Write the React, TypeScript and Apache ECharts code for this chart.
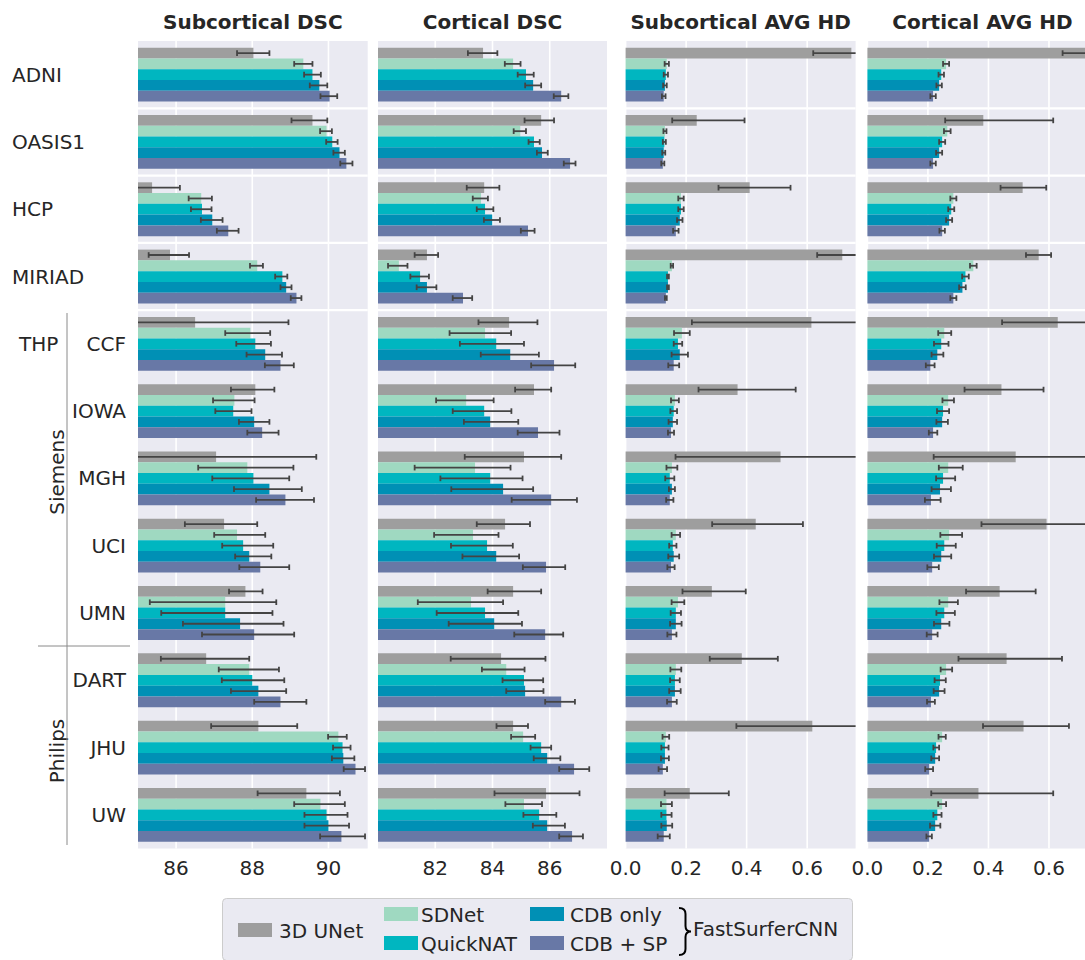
import React, { useEffect, useRef } from "react";
import * as echarts from "echarts";

// ---------- data ----------
const datasets = ["ADNI", "OASIS1", "HCP", "MIRIAD", "CCF", "IOWA", "MGH", "UCI", "UMN", "DART", "JHU", "UW"];
const methods = ["3D UNet", "SDNet", "QuickNAT", "CDB only", "CDB + SP"];
const methodColors = ["#9e9e9e", "#9fd9c1", "#00b6c0", "#0090b5", "#6878a6"];

// Subcortical DSC: rows = methods, cols = datasets (mean, CI low, CI high)
const subDscMeans = [
  [88.03, 89.58, 85.37, 85.84, 86.5, 88.08, 87.05, 87.26, 87.82, 86.79, 88.16, 89.42],
  [89.34, 89.95, 86.66, 88.13, 87.95, 87.53, 87.87, 87.6, 87.29, 87.92, 90.26, 89.79],
  [89.58, 90.1, 86.68, 88.79, 88.08, 87.5, 88.03, 87.76, 87.29, 88.0, 90.37, 89.95],
  [89.76, 90.29, 86.95, 88.89, 88.34, 88.05, 88.45, 87.92, 87.68, 88.16, 90.39, 90.0],
  [90.03, 90.47, 87.37, 89.16, 88.74, 88.26, 88.87, 88.21, 88.05, 88.74, 90.71, 90.34],
];
const subDscLow = [
  [87.6, 89.03, 84.6, 85.28, 84.0, 87.44, 84.4, 86.23, 87.39, 85.6, 86.92, 88.14],
  [89.1, 89.78, 86.33, 87.94, 87.29, 86.97, 86.58, 87.0, 85.31, 87.12, 89.99, 89.1],
  [89.36, 89.94, 86.39, 88.6, 87.58, 87.03, 86.95, 87.21, 85.61, 87.2, 90.12, 89.37],
  [89.51, 90.13, 86.65, 88.74, 87.85, 87.65, 87.52, 87.55, 86.18, 87.44, 90.09, 89.37],
  [89.79, 90.31, 87.07, 89.01, 88.33, 87.87, 88.1, 87.66, 86.68, 88.05, 90.4, 89.78],
];
const subDscHigh = [
  [88.45, 89.97, 86.1, 86.34, 88.95, 88.58, 89.68, 88.13, 88.27, 87.92, 89.18, 90.3],
  [89.58, 90.09, 86.94, 88.28, 88.47, 88.06, 89.08, 88.34, 88.63, 88.7, 90.48, 90.43],
  [89.8, 90.24, 86.93, 88.92, 88.49, 87.98, 88.97, 88.55, 88.53, 88.84, 90.58, 90.5],
  [89.97, 90.43, 87.22, 89.03, 88.78, 88.45, 89.3, 88.5, 88.82, 88.89, 90.68, 90.54],
  [90.23, 90.63, 87.64, 89.29, 89.09, 88.69, 89.62, 88.97, 89.1, 89.42, 90.96, 90.96],
];

// Cortical DSC
const corDscMeans = [
  [83.67, 85.7, 83.71, 81.71, 84.58, 85.45, 85.1, 84.44, 84.72, 84.3, 84.72, 85.87],
  [84.72, 84.97, 83.6, 80.73, 83.74, 83.08, 83.39, 83.32, 83.25, 84.48, 85.07, 85.1],
  [85.17, 85.45, 83.74, 81.47, 84.13, 83.71, 83.92, 83.81, 83.74, 85.1, 85.7, 85.63],
  [85.42, 85.73, 83.99, 81.71, 84.62, 83.92, 84.37, 84.13, 84.06, 85.14, 85.91, 85.91],
  [86.4, 86.71, 85.24, 82.97, 86.15, 85.59, 86.05, 85.87, 85.84, 86.4, 86.85, 86.78],
];
const corDscLow = [
  [83.14, 85.12, 83.1, 81.28, 83.51, 84.79, 83.03, 83.45, 83.83, 82.54, 84.14, 84.07],
  [84.43, 84.74, 83.31, 80.35, 82.5, 82.03, 81.28, 81.96, 81.39, 83.63, 84.65, 84.45],
  [84.88, 85.26, 83.45, 81.13, 82.86, 82.61, 82.18, 82.55, 82.05, 84.35, 85.33, 85.08],
  [85.14, 85.55, 83.7, 81.35, 83.59, 83.0, 82.56, 82.95, 82.47, 84.48, 85.44, 85.41],
  [86.14, 86.49, 84.99, 82.61, 85.35, 84.88, 84.67, 85.06, 84.76, 85.84, 86.33, 86.33],
];
const corDscHigh = [
  [84.17, 86.15, 84.24, 82.1, 85.57, 86.05, 86.4, 85.31, 85.7, 85.85, 85.24, 87.04],
  [84.98, 85.17, 83.84, 81.03, 84.65, 84.04, 84.63, 84.21, 84.37, 85.12, 85.49, 85.73],
  [85.44, 85.65, 84.03, 81.78, 85.1, 84.66, 85.05, 84.71, 84.9, 85.77, 86.05, 86.23],
  [85.7, 85.93, 84.26, 82.04, 85.62, 84.9, 85.42, 84.93, 85.03, 85.78, 86.37, 86.53],
  [86.65, 86.9, 85.47, 83.29, 86.89, 86.34, 86.95, 86.54, 86.47, 86.88, 87.38, 87.16],
];

// Subcortical AVG HD
const subHdMeans = [
  [0.746, 0.235, 0.41, 0.716, 0.614, 0.37, 0.512, 0.43, 0.285, 0.384, 0.617, 0.212],
  [0.136, 0.13, 0.183, 0.153, 0.186, 0.163, 0.153, 0.166, 0.173, 0.166, 0.133, 0.135],
  [0.133, 0.128, 0.183, 0.14, 0.173, 0.159, 0.146, 0.156, 0.166, 0.163, 0.13, 0.135],
  [0.13, 0.126, 0.179, 0.14, 0.179, 0.156, 0.153, 0.159, 0.166, 0.163, 0.13, 0.136],
  [0.126, 0.123, 0.166, 0.133, 0.159, 0.15, 0.146, 0.15, 0.153, 0.153, 0.123, 0.126],
];
const subHdLow = [
  [0.62, 0.154, 0.307, 0.633, 0.219, 0.241, 0.165, 0.286, 0.188, 0.278, 0.366, 0.129],
  [0.129, 0.125, 0.174, 0.149, 0.16, 0.15, 0.135, 0.152, 0.152, 0.148, 0.122, 0.117],
  [0.126, 0.123, 0.174, 0.137, 0.159, 0.148, 0.131, 0.144, 0.149, 0.147, 0.118, 0.118],
  [0.124, 0.121, 0.17, 0.137, 0.152, 0.142, 0.143, 0.141, 0.147, 0.144, 0.117, 0.118],
  [0.12, 0.118, 0.157, 0.13, 0.141, 0.14, 0.134, 0.138, 0.138, 0.137, 0.109, 0.106],
];
const subHdHigh = [
  [0.87, 0.393, 0.545, 0.8, 1.0, 0.562, 0.86, 0.586, 0.397, 0.503, 0.87, 0.341],
  [0.143, 0.135, 0.192, 0.157, 0.212, 0.176, 0.171, 0.18, 0.194, 0.184, 0.144, 0.153],
  [0.14, 0.133, 0.192, 0.143, 0.187, 0.17, 0.161, 0.168, 0.183, 0.179, 0.142, 0.152],
  [0.136, 0.131, 0.188, 0.143, 0.206, 0.17, 0.163, 0.177, 0.185, 0.182, 0.143, 0.154],
  [0.132, 0.128, 0.175, 0.136, 0.177, 0.16, 0.158, 0.162, 0.168, 0.169, 0.137, 0.146],
];

// Cortical AVG HD
const corHdMeans = [
  [0.74, 0.383, 0.513, 0.566, 0.629, 0.443, 0.49, 0.592, 0.437, 0.46, 0.516, 0.367],
  [0.26, 0.264, 0.284, 0.35, 0.254, 0.267, 0.267, 0.27, 0.267, 0.26, 0.247, 0.247],
  [0.244, 0.247, 0.277, 0.324, 0.244, 0.25, 0.25, 0.254, 0.254, 0.24, 0.227, 0.231],
  [0.237, 0.237, 0.27, 0.314, 0.231, 0.247, 0.24, 0.244, 0.244, 0.237, 0.224, 0.224],
  [0.217, 0.217, 0.247, 0.284, 0.208, 0.217, 0.21, 0.214, 0.214, 0.21, 0.204, 0.204],
];
const corHdLow = [
  [0.645, 0.257, 0.44, 0.524, 0.445, 0.321, 0.219, 0.377, 0.326, 0.301, 0.382, 0.211],
  [0.25, 0.253, 0.274, 0.339, 0.234, 0.248, 0.236, 0.241, 0.238, 0.242, 0.235, 0.234],
  [0.235, 0.237, 0.267, 0.313, 0.22, 0.23, 0.227, 0.229, 0.228, 0.222, 0.218, 0.218],
  [0.228, 0.227, 0.26, 0.303, 0.212, 0.228, 0.212, 0.22, 0.22, 0.219, 0.211, 0.207],
  [0.208, 0.208, 0.238, 0.274, 0.193, 0.203, 0.19, 0.198, 0.196, 0.197, 0.191, 0.195],
];
const corHdHigh = [
  [0.835, 0.614, 0.591, 0.607, 0.82, 0.582, 0.77, 0.8, 0.556, 0.643, 0.666, 0.614],
  [0.27, 0.275, 0.294, 0.361, 0.277, 0.286, 0.315, 0.313, 0.299, 0.28, 0.259, 0.26],
  [0.253, 0.257, 0.287, 0.335, 0.268, 0.27, 0.29, 0.292, 0.289, 0.259, 0.237, 0.245],
  [0.246, 0.247, 0.28, 0.325, 0.251, 0.266, 0.276, 0.277, 0.271, 0.255, 0.237, 0.241],
  [0.226, 0.226, 0.256, 0.294, 0.222, 0.231, 0.242, 0.236, 0.232, 0.223, 0.217, 0.213],
];

const subDscTicks = [86, 88, 90];
const corDscTicks = [82, 84, 86];
const hdTicks = [0, 0.2, 0.4, 0.6];
const separatorRows = [1, 2, 3, 4];

// ---------- layout ----------
const FONT = "DejaVu Sans";
const TEXT = "#262626";
const BG = "#eaeaf2";
const GRID_TOP = 41;
const GRID_H = 807.5;
const BAR_FRAC = 0.16;

const panels = [
  { title: "Subcortical DSC", left: 138, width: 229.7, min: 85, max: 91.03, ticks: subDscTicks, means: subDscMeans, low: subDscLow, high: subDscHigh, dec: 0 },
  { title: "Cortical DSC", left: 378, width: 229, min: 80, max: 88, ticks: corDscTicks, means: corDscMeans, low: corDscLow, high: corDscHigh, dec: 0 },
  { title: "Subcortical AVG HD", left: 625.6, width: 230, min: 0, max: 0.76, ticks: hdTicks, means: subHdMeans, low: subHdLow, high: subHdHigh, dec: 1 },
  { title: "Cortical AVG HD", left: 867.4, width: 230, min: 0, max: 0.76, ticks: hdTicks, means: corHdMeans, low: corHdLow, high: corHdHigh, dec: 1 },
];

echarts.graphic.registerShape(
  "brace",
  echarts.graphic.extendPath(
    "M0,0 C5,0 6.5,2 6.5,6 L6.5,18 C6.5,22 8,23.5 12,23.5 C8,23.5 6.5,25 6.5,29 L6.5,41 C6.5,45 5,47 0,47",
    {}
  )
);

function buildOption() {
  const grids: any[] = [];
  const xAxes: any[] = [];
  const yAxes: any[] = [];
  const series: any[] = [];
  const graphics: any[] = [];

  const baseY = {
    type: "category",
    data: datasets,
    inverse: true,
    axisLine: { show: false },
    axisTick: { show: false },
    splitLine: { show: false },
  };

  panels.forEach((p, pi) => {
    grids.push({
      left: p.left,
      top: GRID_TOP,
      width: p.width,
      height: GRID_H,
      show: true,
      backgroundColor: BG,
      borderWidth: 0,
      containLabel: false,
      outerBoundsMode: "none",
    });
    xAxes.push({
      gridIndex: pi,
      type: "value",
      min: p.min,
      max: p.max,
      startValue: p.min,
      axisLine: { show: false },
      axisTick: { show: false },
      splitLine: { show: false },
      axisLabel: {
        customValues: p.ticks,
        formatter: (v: number) => v.toFixed(p.dec),
        fontSize: 20,
        fontFamily: FONT,
        color: TEXT,
        margin: 9,
      },
    });
    let yIdx: number;
    if (pi === 0) {
      yAxes.push({
        ...baseY,
        gridIndex: 0,
        position: "left",
        axisLabel: {
          interval: 0,
          formatter: (v: string, i: number) => (i < 4 ? v : ""),
          align: "left",
          margin: 126,
          fontSize: 20,
          fontFamily: FONT,
          color: TEXT,
        },
      });
      yAxes.push({
        ...baseY,
        gridIndex: 0,
        position: "left",
        axisLabel: {
          interval: 0,
          formatter: (v: string, i: number) => (i >= 4 ? v : ""),
          align: "right",
          margin: 12,
          fontSize: 20,
          fontFamily: FONT,
          color: TEXT,
        },
      });
      yIdx = 0;
    } else {
      yAxes.push({ ...baseY, gridIndex: pi, axisLabel: { show: false } });
      yIdx = pi + 1;
    }

    // vertical grid lines
    series.push({
      type: "custom",
      xAxisIndex: pi,
      yAxisIndex: yIdx,
      z: 1,
      silent: true,
      encode: { x: 0, y: 1 },
      data: p.ticks.map((t) => [t, 0]),
      renderItem: (params: any, api: any) => {
        const cs = params.coordSys;
        const x = api.coord([api.value(0), 0])[0];
        return {
          type: "line",
          shape: { x1: x, y1: cs.y, x2: x, y2: cs.y + cs.height },
          style: { stroke: "#ffffff", lineWidth: 1.6 },
        };
      },
    });
    // horizontal separators
    series.push({
      type: "custom",
      xAxisIndex: pi,
      yAxisIndex: yIdx,
      z: 1,
      silent: true,
      encode: { x: 0, y: 1 },
      data: separatorRows.map((r) => [p.min, r]),
      renderItem: (params: any, api: any) => {
        const cs = params.coordSys;
        const yc = api.coord([api.value(0), api.value(1)])[1];
        const band = api.size([0, 1])[1];
        const y = yc - band / 2;
        return {
          type: "line",
          shape: { x1: cs.x, y1: y, x2: cs.x + cs.width, y2: y },
          style: { stroke: "#ffffff", lineWidth: 2.2 },
        };
      },
    });
    // bars
    methods.forEach((m, k) => {
      series.push({
        type: "bar",
        name: m,
        xAxisIndex: pi,
        yAxisIndex: yIdx,
        data: p.means[k],
        barWidth: BAR_FRAC * 100 + "%",
        barGap: "0%",
        clip: true,
        silent: true,
        z: 2,
        itemStyle: { color: methodColors[k] },
      });
    });
    // error bars (confidence intervals)
    const errData: number[][] = [];
    p.means.forEach((arr, k) => arr.forEach((v, c) => errData.push([v, c, p.low[k][c], p.high[k][c], k])));
    series.push({
      type: "custom",
      xAxisIndex: pi,
      yAxisIndex: yIdx,
      z: 3,
      silent: true,
      encode: { x: 0, y: 1 },
      data: errData,
      renderItem: (params: any, api: any) => {
        const cs = params.coordSys;
        const c = api.value(1);
        const k = api.value(4);
        const center = api.coord([api.value(0), c]);
        const band = api.size([0, 1])[1];
        const y = center[1] + (k - 2) * band * BAR_FRAC;
        const x0 = api.coord([api.value(2), c])[0];
        const x1 = api.coord([api.value(3), c])[0];
        const lo = Math.max(x0, cs.x);
        const hi = Math.min(x1, cs.x + cs.width);
        const st = { stroke: "#444444", lineWidth: 1.8 };
        const children: any[] = [{ type: "line", shape: { x1: lo, y1: y, x2: hi, y2: y }, style: st }];
        if (x0 >= cs.x) children.push({ type: "line", shape: { x1: x0, y1: y - 2.8, x2: x0, y2: y + 2.8 }, style: st });
        if (x1 <= cs.x + cs.width) children.push({ type: "line", shape: { x1: x1, y1: y - 2.8, x2: x1, y2: y + 2.8 }, style: st });
        return { type: "group", children };
      },
    });

    graphics.push({
      type: "text",
      x: p.left + p.width / 2,
      y: 22,
      style: {
        text: p.title,
        fontFamily: FONT,
        fontSize: 20,
        fontWeight: "bold",
        fill: TEXT,
        align: "center",
        verticalAlign: "middle",
      },
    });
  });

  const txt = (text: string, x: number, y: number, extra: any = {}) => ({
    type: "text",
    x,
    y,
    ...extra,
    style: {
      text,
      fontFamily: FONT,
      fontSize: 20,
      fill: TEXT,
      align: "left",
      verticalAlign: "middle",
      ...(extra.style || {}),
    },
  });

  // group annotations
  graphics.push(txt("THP", 19, 344));
  graphics.push(txt("Siemens", 57, 472, { rotation: Math.PI / 2, style: { align: "center" } }));
  graphics.push(txt("Philips", 57, 751, { rotation: Math.PI / 2, style: { align: "center" } }));
  graphics.push({ type: "line", shape: { x1: 67, y1: 313, x2: 67, y2: 845 }, style: { stroke: "#8a8a8a", lineWidth: 1 } });
  graphics.push({ type: "line", shape: { x1: 38, y1: 646, x2: 130, y2: 646 }, style: { stroke: "#8a8a8a", lineWidth: 1 } });

  // legend
  graphics.push({
    type: "rect",
    shape: { x: 222.5, y: 898.5, width: 630, height: 62, r: 4 },
    style: { fill: BG, stroke: "#cccccc", lineWidth: 1 },
  });
  const legendPos = [
    [238, 923, 279],
    [384, 907, 421],
    [384, 936, 421],
    [530, 907, 570],
    [530, 936, 570],
  ];
  methods.forEach((m, k) => {
    const [rx, ry, tx] = legendPos[k];
    graphics.push({ type: "rect", shape: { x: rx, y: ry, width: 34, height: 14 }, style: { fill: methodColors[k] } });
    graphics.push(txt(m, tx, ry + 7.5));
  });
  graphics.push({
    type: "brace",
    x: 679,
    y: 908,
    style: { stroke: "#000000", lineWidth: 2, fill: "none" },
  });
  graphics.push(txt("FastSurferCNN", 693, 929));

  return {
    animation: false,
    backgroundColor: "#ffffff",
    textStyle: { fontFamily: FONT },
    grid: grids,
    xAxis: xAxes,
    yAxis: yAxes,
    series,
    graphic: graphics,
  };
}

export default function App() {
  const ref = useRef<HTMLDivElement>(null);
  useEffect(() => {
    document.body.style.margin = "0";
    if (!ref.current) return;
    const chart = echarts.init(ref.current, null, { renderer: "svg" });
    chart.setOption(buildOption() as any);
    return () => chart.dispose();
  }, []);
  return <div ref={ref} style={{ width: 1085, height: 960 }} />;
}
